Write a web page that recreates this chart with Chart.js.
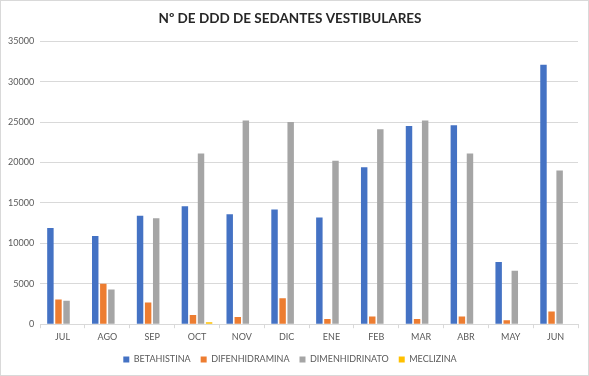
<!DOCTYPE html>
<html>
<head>
<meta charset="utf-8">
<script src="https://cdn.jsdelivr.net/npm/chart.js@4.4.0/dist/chart.umd.min.js"></script>
<style>
html,body{margin:0;padding:0;background:#fff;}
#wrap{position:absolute;left:0;top:0;width:587px;height:374px;border:1px solid #d9d9d9;}
canvas{display:block;}
</style>
</head>
<body>
<div id="wrap"><canvas id="c" width="587" height="374"></canvas></div>
<script>
const categories = ["JUL","AGO","SEP","OCT","NOV","DIC","ENE","FEB","MAR","ABR","MAY","JUN"];
const betahistina   = [11900,10900,13400,14600,13600,14200,13200,19400,24500,24600,7700,32100];
const difenhidramina= [3050,5000,2680,1150,900,3200,650,950,650,950,500,1570];
const dimenhidrinato= [2900,4300,13100,21100,25200,25000,20200,24100,25200,21100,6600,19000];
const meclizina     = [0,0,0,250,0,0,0,0,0,0,0,0];
const seriesNames = ["BETAHISTINA","DIFENHIDRAMINA","DIMENHIDRINATO","MECLIZINA"];
const yTicks = [0,5000,10000,15000,20000,25000,30000,35000];

const colors = ["#4472C4","#ED7D31","#A5A5A5","#FFC000"];
const data = [betahistina,difenhidramina,dimenhidrinato,meclizina];

new Chart(document.getElementById('c'), {
  type: 'bar',
  data: {
    labels: categories,
    datasets: seriesNames.map((n,i)=>({
      label: n,
      data: data[i],
      backgroundColor: colors[i],
      borderWidth: 0,
      categoryPercentage: 0.72,
      barPercentage: 0.8
    }))
  },
  options: {
    responsive: false,
    animation: false,
    layout: { padding: { left: 1, right: 10, top: 6, bottom: 1 } },
    plugins: {
      title: {
        display: true,
        text: "Nº DE DDD DE SEDANTES VESTIBULARES",
        color: "#262626",
        font: { family: "Lato", size: 13.5, weight: "bold" },
        padding: { top: 4, bottom: 14 }
      },
      legend: {
        position: 'bottom',
        labels: {
          boxWidth: 6, boxHeight: 6,
          color: "#595959",
          font: { family: "Lato", size: 9 },
          padding: 10
        }
      },
      tooltip: { enabled: false }
    },
    scales: {
      x: {
        grid: { drawOnChartArea: false, drawTicks: true, tickLength: 4, color: "#d9d9d9", offset: true },
        border: { color: "#d9d9d9" },
        ticks: { color: "#595959", font: { family: "Lato", size: 9 }, padding: 3 }
      },
      y: {
        min: 0, max: 35000,
        afterBuildTicks: (ax) => { ax.ticks = yTicks.map(v=>({value:v})); },
        grid: { color: "#d9d9d9", drawTicks: false },
        border: { display: false },
        ticks: { color: "#595959", font: { family: "Lato", size: 9 }, padding: 6, callback: (v)=>String(v) }
      }
    }
  }
});
</script>
</body>
</html>
